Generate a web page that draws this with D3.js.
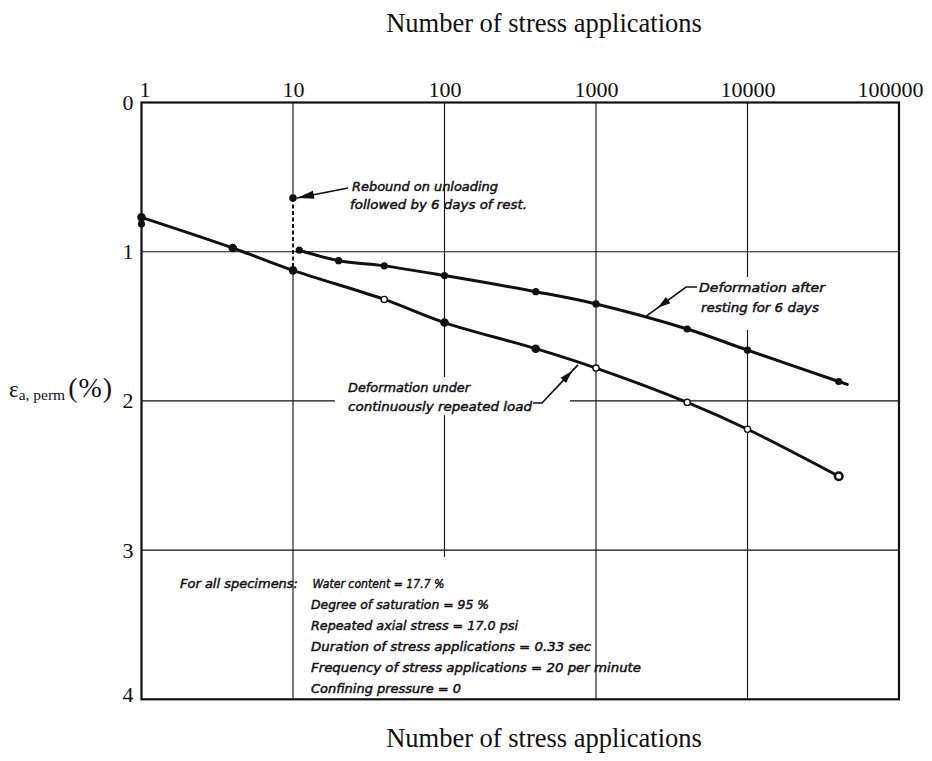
<!DOCTYPE html>
<html>
<head>
<meta charset="utf-8">
<script src="https://cdn.jsdelivr.net/npm/d3@7"></script>
<style>
  html, body { margin: 0; padding: 0; background: #fff; }
  svg { display: block; }
</style>
</head>
<body>
<svg id="chart" width="932" height="761"></svg>
<script>
// Number of stress applications (log axis) and permanent axial strain ticks
const cycleTicks = [1, 10, 100, 1000, 10000, 100000];
const strainTicks = [0, 1, 2, 3, 4];

// Deformation under continuously repeated load
const continuousN      = [1, 4, 10, 40, 100, 400, 1000, 4000, 10000, 40000];
const continuousStrain = [0.77, 0.975, 1.125, 1.32, 1.475, 1.65, 1.78, 2.01, 2.19, 2.505];
const continuousOpen   = [false, false, false, true, false, false, true, true, true, true];

// Second reading taken at the first application
const firstN      = [1];
const firstStrain = [0.815];

// Rebound on unloading followed by 6 days of rest
const reboundN      = [10];
const reboundStrain = [0.64];

// Deformation after resting for 6 days
const restedN      = [11, 20, 40, 100, 400, 1000, 4000, 10000, 40000];
const restedStrain = [0.99, 1.06, 1.095, 1.16, 1.268, 1.35, 1.518, 1.66, 1.87];

// Test conditions
const noteLead  = "For all specimens:";
const noteLines = [
  "Water content = 17.7 %",
  "Degree of saturation = 95 %",
  "Repeated axial stress = 17.0 psi",
  "Duration of stress applications = 0.33 sec",
  "Frequency of stress applications  = 20 per minute",
  "Confining pressure = 0"
];
const axisTitle = "Number of stress applications";

// ---------------------------------------------------------------------------
const plot = { left: 141.5, right: 899, top: 102.5, bottom: 699.3 };
const serif = "'Liberation Serif','Times New Roman',serif";
const hand  = "'DejaVu Sans','Liberation Sans',sans-serif";
const ink = "#111";

const x = d3.scaleLog().domain([1, 100000]).range([plot.left, plot.right]);
const y = d3.scaleLinear().domain([0, 4]).range([plot.top, plot.bottom]);

const svg = d3.select("#chart");

// ---- grid, interrupted where lettering sits on the sheet ----
const grid = svg.append("g").attr("stroke", ink).attr("stroke-width", 1.1).attr("fill", "none");

function pieces(lo, hi, gaps) {
  const out = [];
  let start = lo;
  gaps.forEach(([a, b]) => { out.push([start, a]); start = b; });
  out.push([start, hi]);
  return out.filter(p => p[1] > p[0]);
}

const verticalGaps = new Map([
  [10,    [[reboundStrain[0], continuousStrain[2]]]],
  [100,   [[1.84, 2.095], [3.045, 4]]],
  [1000,  []],
  [10000, [[1.17, 1.525]]]
]);
verticalGaps.forEach((gaps, n) => {
  pieces(0, 4, gaps).forEach(([a, b]) => {
    grid.append("line").attr("x1", x(n)).attr("x2", x(n)).attr("y1", y(a)).attr("y2", y(b));
  });
});

const horizontalGaps = new Map([
  [1, []],
  [2, [[18.9, 673]]],
  [3, []]
]);
horizontalGaps.forEach((gaps, v) => {
  pieces(1, 100000, gaps).forEach(([a, b]) => {
    grid.append("line").attr("x1", x(a)).attr("x2", x(b)).attr("y1", y(v)).attr("y2", y(v));
  });
});

// ---- frame ----
svg.append("rect")
  .attr("x", x(1)).attr("y", y(0))
  .attr("width", x(100000) - x(1)).attr("height", y(4) - y(0))
  .attr("fill", "none").attr("stroke", ink).attr("stroke-width", 2.2);

// ---- axes ----
const gx = svg.append("g")
  .attr("transform", `translate(0,${plot.top})`)
  .call(d3.axisTop(x).tickValues(cycleTicks).tickFormat(d3.format("d")).tickSize(0).tickPadding(6));
gx.select(".domain").remove();
gx.selectAll("text").attr("font-family", serif).attr("font-size", 22).attr("fill", ink);
gx.selectAll(".tick").filter(d => d === 1).select("text").attr("text-anchor", "start").attr("x", -2.5);
gx.selectAll(".tick").filter(d => d === 100000).select("text").attr("dx", -9);

const gy = svg.append("g")
  .attr("transform", `translate(${plot.left},0)`)
  .call(d3.axisLeft(y).tickValues(strainTicks).tickFormat(d3.format("d")).tickSize(0).tickPadding(8));
gy.select(".domain").remove();
gy.selectAll("text").attr("font-family", serif).attr("font-size", 22).attr("fill", ink);
gy.selectAll(".tick").filter(d => d === 4).select("text").attr("y", -5);

// axis titles
svg.append("text").attr("x", 544).attr("y", 32).attr("text-anchor", "middle")
  .attr("font-family", serif).attr("font-size", 26.5).attr("fill", ink).text(axisTitle);
svg.append("text").attr("x", 544).attr("y", 747).attr("text-anchor", "middle")
  .attr("font-family", serif).attr("font-size", 26.5).attr("fill", ink).text(axisTitle);

// strain label: ε a, perm (%)
const yl = svg.append("text").attr("x", 9).attr("y", 397).attr("font-family", serif).attr("fill", ink);
yl.append("tspan").attr("font-size", 23).text("ε");
yl.append("tspan").attr("font-size", 15.5).attr("dy", 3).text("a, perm");
yl.append("tspan").attr("font-size", 28).attr("dy", -3).attr("dx", 3).attr("letter-spacing", 1).text("(%)");

// ---- curves ----
const smooth = d3.line().curve(d3.curveCatmullRom.alpha(0.5));

const continuousPts = d3.zip(continuousN, continuousStrain).map(([n, s]) => [x(n), y(s)]);
svg.append("path").attr("d", smooth(continuousPts))
  .attr("fill", "none").attr("stroke", ink).attr("stroke-width", 3).attr("stroke-linecap", "round");

const restedPts = d3.zip(restedN, restedStrain).map(([n, s]) => [x(n), y(s)]);
// short run-out of the drawn curve beyond the last reading
const [pa, pb] = restedPts.slice(-2);
const segLen = Math.hypot(pb[0] - pa[0], pb[1] - pa[1]);
const tail = [pb[0] + (pb[0] - pa[0]) / segLen * 9, pb[1] + (pb[1] - pa[1]) / segLen * 9];
svg.append("path").attr("d", smooth(restedPts.concat([tail])))
  .attr("fill", "none").attr("stroke", ink).attr("stroke-width", 3).attr("stroke-linecap", "round");

// rebound: dashed drop from the rested start to the loaded curve
svg.append("line")
  .attr("x1", x(reboundN[0])).attr("x2", x(reboundN[0]))
  .attr("y1", y(reboundStrain[0])).attr("y2", y(continuousStrain[2]))
  .attr("stroke", ink).attr("stroke-width", 2).attr("stroke-dasharray", "4 2.5");

// ---- readings ----
const marks = svg.append("g");
d3.zip(continuousN, continuousStrain, continuousOpen).forEach(([n, s, open], i) => {
  const last = i === continuousN.length - 1;
  marks.append("circle").attr("cx", x(n)).attr("cy", y(s))
    .attr("r", last ? 3.8 : (open ? 3.1 : 3.6))
    .attr("fill", open ? "#fff" : ink)
    .attr("stroke", ink).attr("stroke-width", last ? 2.6 : 1.4);
});
d3.zip(firstN, firstStrain).forEach(([n, s]) => {
  marks.append("circle").attr("cx", x(n)).attr("cy", y(s)).attr("r", 3.6).attr("fill", ink);
});
d3.zip(restedN, restedStrain).forEach(([n, s]) => {
  marks.append("circle").attr("cx", x(n)).attr("cy", y(s)).attr("r", 3.6).attr("fill", ink);
});
d3.zip(reboundN, reboundStrain).forEach(([n, s]) => {
  marks.append("circle").attr("cx", x(n)).attr("cy", y(s)).attr("r", 3.8).attr("fill", ink);
});

// ---- lettered annotations with leader arrows ----
const notes = svg.append("g").attr("font-family", hand).attr("font-style", "italic")
  .attr("font-size", 12).attr("fill", ink).attr("stroke", ink).attr("stroke-width", 0.45);

function letter(str, px, py, width) {
  notes.append("text").attr("x", px).attr("y", py)
    .attr("textLength", width).attr("lengthAdjust", "spacingAndGlyphs").text(str);
}

function arrowHead(tip, from, len, half) {
  const dx = tip[0] - from[0], dy = tip[1] - from[1];
  const L = Math.hypot(dx, dy), ux = dx / L, uy = dy / L;
  const bx = tip[0] - ux * len, by = tip[1] - uy * len;
  return [tip, [bx - uy * half, by + ux * half], [bx + uy * half, by - ux * half]];
}

function leader(points, tipFrac, len, half) {
  svg.append("path").attr("d", d3.line()(points))
    .attr("fill", "none").attr("stroke", ink).attr("stroke-width", 1.7);
  const a = points[points.length - 2], b = points[points.length - 1];
  const tip = [a[0] + (b[0] - a[0]) * tipFrac, a[1] + (b[1] - a[1]) * tipFrac];
  svg.append("path").attr("d", d3.line()(arrowHead(tip, a, len, half)) + "Z").attr("fill", ink);
}

// rebound note
letter("Rebound on unloading", 352, 191, 146);
letter("followed by 6 days of rest.", 350, 208.5, 177);
const rb = [x(reboundN[0]), y(reboundStrain[0])];
leader([[348, 188], [rb[0] + 4, rb[1]]], 1, 17, 4);

// rested-curve note
letter("Deformation after", 699, 292, 126);
letter("resting for 6 days", 701, 312, 118);
leader([[697, 287], [686, 287], [x(2160), y(1.43)]], 0.72, 13, 3.8);

// continuous-curve note
letter("Deformation under", 348, 392, 122);
letter("continuously repeated load", 348, 410.5, 184);
leader([[533, 403], [542, 403], [x(760), y(1.759)]], 0.84, 13, 3.8);

// test conditions
letter(noteLead, 180, 588, 118);
const noteWidths = [132, 178, 207, 280, 330, 150];
noteLines.forEach((t, i) => {
  letter(t, i === 0 ? 312.5 : 311, 588 + i * 21, noteWidths[i]);
});
</script>
</body>
</html>
